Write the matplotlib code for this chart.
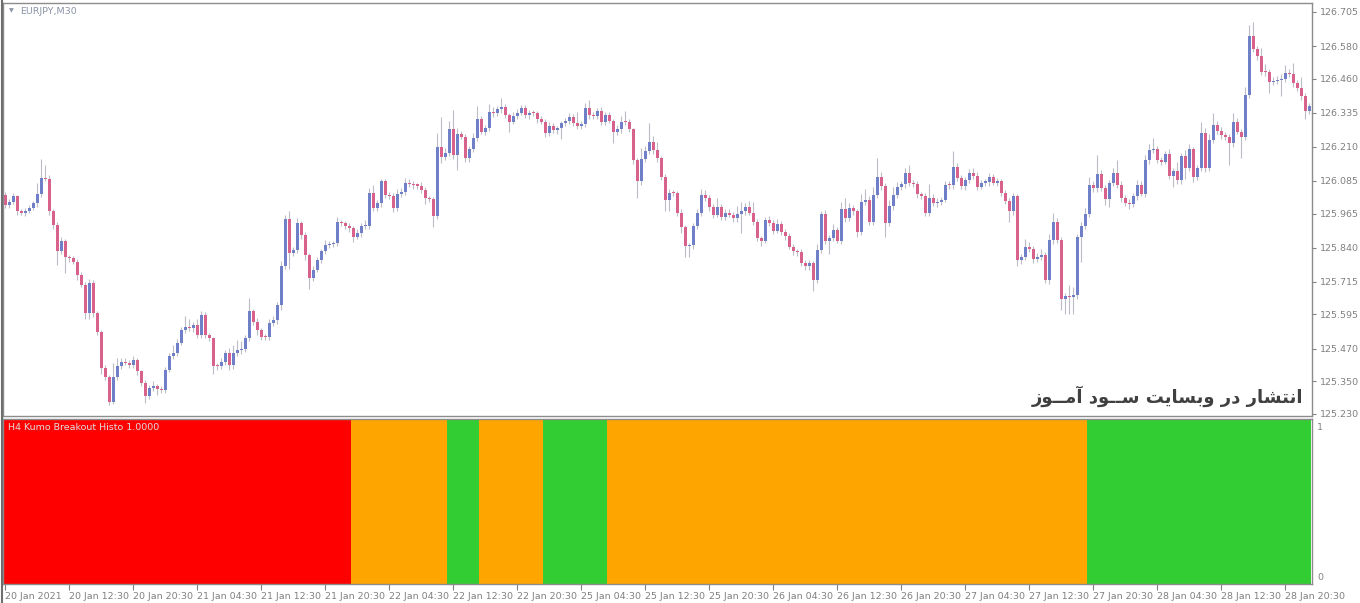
import matplotlib
matplotlib.use('Agg')
import matplotlib.pyplot as plt
import numpy as np
from matplotlib.lines import Line2D

# ---------------- data ----------------
symbol = "EURJPY,M30"
indicator_name = "H4 Kumo Breakout Histo 1.0000"
watermark = ("\uFEAF\uFEEE\u0640\u0640\uFEE3\uFE81 "
             "\uFEA9\uFEEE\u0640\u0640\uFEB3 "
             "\uFE96\uFEF3\uFE8E\uFEB4\uFE91\uFEED "
             "\uFEAD\uFEA9 "
             "\uFEAD\uFE8E\uFEB8\uFE98\uFEE7\uFE8D")

first_open = 126.034
closes = [
    125.997, 126.009, 126.028, 125.973, 125.969, 125.976, 125.985, 126.003, 126.037, 126.095,
    126.093, 125.973, 125.924, 125.826, 125.863, 125.807, 125.801, 125.789, 125.740, 125.704,
    125.600, 125.710, 125.600, 125.532, 125.398, 125.365, 125.275, 125.367, 125.404, 125.422,
    125.416, 125.410, 125.428, 125.386, 125.345, 125.296, 125.324, 125.331, 125.321, 125.318,
    125.392, 125.443, 125.453, 125.490, 125.538, 125.548, 125.545, 125.557, 125.520, 125.593,
    125.520, 125.508, 125.406, 125.404, 125.422, 125.453, 125.410, 125.453, 125.463, 125.468,
    125.508, 125.606, 125.569, 125.538, 125.514, 125.512, 125.563, 125.573, 125.630, 125.771,
    125.944, 125.822, 125.832, 125.930, 125.887, 125.814, 125.728, 125.759, 125.793, 125.826,
    125.850, 125.853, 125.856, 125.933, 125.931, 125.918, 125.911, 125.881, 125.893, 125.918,
    125.920, 126.040, 125.985, 126.003, 126.083, 126.034, 126.030, 125.985, 126.036, 126.046,
    126.077, 126.074, 126.070, 126.068, 126.052, 126.022, 126.019, 125.957, 126.211, 126.171,
    126.187, 126.275, 126.181, 126.258, 126.248, 126.168, 126.201, 126.242, 126.311, 126.266,
    126.278, 126.337, 126.333, 126.348, 126.358, 126.327, 126.303, 126.324, 126.336, 126.352,
    126.327, 126.336, 126.333, 126.311, 126.303, 126.262, 126.287, 126.272, 126.278, 126.297,
    126.306, 126.319, 126.299, 126.287, 126.294, 126.352, 126.327, 126.324, 126.343, 126.303,
    126.327, 126.306, 126.266, 126.275, 126.303, 126.301, 126.275, 126.162, 126.083, 126.165,
    126.193, 126.229, 126.199, 126.168, 126.101, 126.016, 126.042, 126.040, 125.969, 125.915,
    125.847, 125.850, 125.918, 125.969, 126.034, 126.022, 125.989, 125.961, 125.991, 125.954,
    125.969, 125.961, 125.948, 125.964, 125.973, 125.991, 125.969, 125.936, 125.875, 125.866,
    125.942, 125.932, 125.903, 125.928, 125.899, 125.883, 125.844, 125.826, 125.824, 125.783,
    125.771, 125.783, 125.722, 125.832, 125.964, 125.866, 125.875, 125.906, 125.866, 125.981,
    125.948, 125.985, 125.973, 125.899, 126.006, 126.016, 125.936, 126.034, 126.099, 126.067,
    125.930, 125.994, 126.034, 126.064, 126.074, 126.113, 126.077, 126.075, 126.038, 126.030,
    125.969, 126.022, 126.003, 126.009, 126.016, 126.071, 126.069, 126.135, 126.095, 126.067,
    126.089, 126.113, 126.104, 126.064, 126.079, 126.080, 126.101, 126.079, 126.083, 126.040,
    126.012, 125.973, 126.028, 125.793, 125.805, 125.842, 125.835, 125.798, 125.805, 125.814,
    125.720, 125.869, 125.936, 125.869, 125.651, 125.663, 125.658, 125.667, 125.879, 125.920,
    125.964, 126.071, 126.058, 126.111, 126.058, 126.018, 126.077, 126.113, 126.071, 126.022,
    126.003, 126.001, 126.030, 126.071, 126.038, 126.160, 126.199, 126.201, 126.162, 126.156,
    126.184, 126.104, 126.123, 126.087, 126.177, 126.132, 126.201, 126.101, 126.132, 126.260,
    126.132, 126.236, 126.291, 126.270, 126.254, 126.246, 126.223, 126.303, 126.266, 126.248,
    126.400, 126.617, 126.569, 126.543, 126.485, 126.483, 126.448, 126.452, 126.455, 126.459,
    126.481, 126.477, 126.444, 126.426, 126.397, 126.342, 126.360,
]

# wick lengths above / below the body, in points (0.001)
upper_wick = [
    10, 8, 14, 6, 8, 10, 12, 8, 40, 70,
    50, 12, 8, 10, 18, 8, 6, 10, 8, 12,
    10, 14, 10, 8, 6, 12, 8, 50, 30, 12,
    14, 10, 16, 8, 6, 10, 12, 20, 8, 10,
    10, 12, 30, 14, 10, 40, 30, 12, 20, 15,
    10, 8, 6, 10, 14, 12, 20, 30, 40, 30,
    12, 50, 10, 12, 8, 10, 14, 16, 12, 20,
    15, 30, 12, 20, 8, 10, 6, 12, 14, 10,
    20, 12, 10, 20, 10, 8, 12, 10, 14, 12,
    20, 18, 30, 12, 10, 8, 12, 10, 20, 12,
    20, 14, 10, 8, 12, 10, 8, 6, 50, 110,
    20, 30, 70, 20, 12, 10, 14, 20, 50, 12,
    14, 30, 18, 12, 30, 10, 8, 14, 12, 10,
    12, 10, 10, 8, 12, 10, 14, 12, 10, 8,
    10, 14, 12, 40, 10, 20, 30, 12, 10, 14,
    10, 12, 8, 14, 20, 40, 10, 6, 8, 40,
    20, 70, 20, 30, 10, 10, 14, 10, 8, 12,
    10, 8, 12, 14, 20, 16, 10, 10, 30, 10,
    12, 14, 10, 30, 35, 12, 20, 40, 10, 8,
    12, 14, 10, 16, 10, 8, 12, 10, 8, 10,
    12, 10, 8, 20, 10, 16, 12, 20, 10, 25,
    40, 20, 12, 10, 30, 40, 14, 30, 70, 20,
    10, 20, 30, 16, 12, 20, 30, 12, 10, 8,
    12, 50, 14, 12, 10, 14, 12, 60, 14, 12,
    12, 14, 20, 12, 10, 12, 14, 10, 12, 10,
    12, 10, 14, 10, 12, 30, 20, 12, 14, 20,
    10, 20, 30, 12, 10, 12, 40, 30, 12, 14,
    20, 30, 12, 70, 14, 12, 10, 20, 50, 12,
    10, 14, 12, 16, 12, 20, 20, 40, 14, 10,
    12, 20, 10, 30, 12, 20, 20, 10, 12, 40,
    20, 20, 45, 14, 12, 10, 12, 30, 12, 10,
    30, 40, 50, 10, 30, 30, 12, 14, 16, 20,
    30, 14, 40, 12, 40, 12, 10,
]
lower_wick = [
    12, 10, 8, 14, 10, 12, 10, 8, 14, 10,
    10, 12, 14, 50, 10, 60, 14, 10, 20, 10,
    20, 20, 14, 12, 20, 10, 12, 10, 14, 10,
    8, 12, 10, 12, 14, 25, 10, 10, 20, 12,
    10, 8, 12, 10, 8, 12, 10, 14, 10, 12,
    10, 12, 30, 12, 10, 14, 20, 16, 12, 14,
    10, 12, 14, 20, 14, 10, 12, 10, 14, 20,
    10, 60, 12, 10, 14, 20, 40, 12, 10, 8,
    10, 12, 10, 8, 12, 10, 14, 20, 10, 12,
    8, 10, 12, 10, 14, 12, 10, 14, 12, 10,
    12, 10, 14, 12, 10, 20, 12, 40, 10, 20,
    10, 12, 14, 55, 10, 12, 14, 10, 12, 10,
    14, 10, 12, 10, 14, 12, 40, 10, 12, 10,
    12, 14, 10, 12, 10, 14, 12, 10, 14, 40,
    10, 12, 14, 10, 12, 10, 14, 12, 10, 14,
    12, 10, 40, 12, 14, 10, 12, 14, 60, 14,
    12, 10, 14, 12, 14, 40, 40, 12, 14, 20,
    40, 40, 14, 10, 12, 10, 14, 12, 10, 12,
    14, 10, 12, 14, 70, 12, 10, 14, 12, 20,
    10, 12, 14, 10, 12, 14, 10, 12, 14, 12,
    14, 12, 40, 12, 10, 14, 50, 12, 10, 14,
    12, 10, 14, 20, 12, 10, 14, 12, 10, 14,
    50, 12, 14, 10, 12, 14, 10, 12, 14, 10,
    12, 14, 10, 12, 14, 10, 12, 14, 10, 12,
    14, 10, 12, 14, 10, 12, 14, 10, 12, 10,
    12, 40, 12, 20, 14, 12, 10, 14, 12, 10,
    10, 12, 14, 10, 40, 55, 60, 60, 14, 90,
    12, 10, 14, 12, 10, 20, 30, 10, 12, 14,
    10, 20, 12, 14, 10, 12, 14, 10, 12, 14,
    10, 12, 40, 14, 12, 40, 12, 20, 12, 10,
    14, 12, 10, 12, 14, 12, 80, 12, 10, 80,
    12, 10, 12, 14, 10, 12, 40, 12, 10, 60,
    12, 10, 14, 12, 16, 30, 12,
]

price_ticks = [126.705, 126.580, 126.460, 126.335, 126.210, 126.085, 125.965,
               125.840, 125.715, 125.595, 125.470, 125.350, 125.230]

time_labels = ["20 Jan 2021", "20 Jan 12:30", "20 Jan 20:30", "21 Jan 04:30",
               "21 Jan 12:30", "21 Jan 20:30", "22 Jan 04:30", "22 Jan 12:30",
               "22 Jan 20:30", "25 Jan 04:30", "25 Jan 12:30", "25 Jan 20:30",
               "26 Jan 04:30", "26 Jan 12:30", "26 Jan 20:30", "27 Jan 04:30",
               "27 Jan 12:30", "27 Jan 20:30", "28 Jan 04:30", "28 Jan 12:30",
               "28 Jan 20:30"]
bars_per_label = 16

# H4 histogram runs (in M30 bars) and their state
hist_states = ["bear", "neutral", "bull", "neutral", "bull", "neutral", "bull"]
hist_lengths = [87, 24, 8, 16, 16, 120, 56]

# ---------------- styles ----------------
BULL = "#7080c8"
BEAR = "#d8628c"
WICK = "#bcbcc8"
STATE_COL = {"bear": "#ff0000", "neutral": "#ffa500", "bull": "#32cd32"}
TXT = "#808080"
FRAME = "#8c8c8c"

W, H = 1360, 603
fig = plt.figure(figsize=(W / 100, H / 100), dpi=100)
fig.patch.set_facecolor("white")


def px_axes(x0, y0, x1, y1):
    return fig.add_axes([x0 / W, 1 - y1 / H, (x1 - x0) / W, (y1 - y0) / H])


ax = px_axes(3, 3, 1312, 416)
ax2 = px_axes(3, 419, 1312, 584)

closes_a = np.array(closes)
N = len(closes_a)
opens_a = np.r_[first_open, closes_a[:-1]]
x = np.arange(N)
hi_body = np.maximum(opens_a, closes_a)
lo_body = np.minimum(opens_a, closes_a)
highs = hi_body + np.array(upper_wick) * 0.001
lows = lo_body - np.array(lower_wick) * 0.001
bull = closes_a >= opens_a

ax.vlines(x, lows, highs, color=WICK, lw=0.8, zorder=1)
heights = np.maximum(hi_body - lo_body, 0.004)
ax.bar(x, heights, bottom=lo_body, width=0.75,
       color=np.where(bull, BULL, BEAR), linewidth=0, zorder=2)

xl = (-0.5, -0.5 + 1309 / 4)
ax.set_xlim(*xl)
ax.set_ylim(126.749 - 416 * 0.00367, 126.749 - 3 * 0.00367)
ax.set_xticks([])
ax.yaxis.tick_right()
ax.set_yticks(price_ticks)
ax.set_yticklabels([f"{v:.3f}" for v in price_ticks])
ax.tick_params(axis="y", direction="out", length=3, width=0.8, color=TXT,
               labelsize=6.8, labelcolor=TXT, pad=3)
for sp in ax.spines.values():
    sp.set_color(FRAME)
    sp.set_linewidth(1)

# histogram
starts = -0.5 + np.r_[0, np.cumsum(hist_lengths)[:-1]]
ax2.bar(starts, 1.0, width=hist_lengths, align="edge",
        color=[STATE_COL[s] for s in hist_states], linewidth=0)
ax2.set_xlim(*xl)
ax2.set_ylim(0, 1)
ax2.set_yticks([])
tick_pos = np.arange(len(time_labels)) * bars_per_label
ax2.set_xticks(tick_pos)
ax2.set_xticklabels(time_labels)
for lab in ax2.get_xticklabels():
    lab.set_horizontalalignment("left")
ax2.tick_params(axis="x", direction="out", length=4, width=0.8, color=TXT,
                labelsize=6.8, labelcolor=TXT, pad=2)
for sp in ax2.spines.values():
    sp.set_color(FRAME)
    sp.set_linewidth(1)

# texts
fig.text(1317 / W, 1 - 427 / H, "1", fontsize=6.8, color=TXT, va="center")
fig.text(1317 / W, 1 - 578 / H, "0", fontsize=6.8, color=TXT, va="center")
fig.text(9 / W, 1 - 11 / H, "\u25BC", fontsize=4.5, color="#8a94a6", va="center")
fig.text(20 / W, 1 - 11 / H, symbol, fontsize=6.8, color="#8a94a6", va="center")
fig.text(8 / W, 1 - 428 / H, indicator_name, fontsize=6.8, color="#dcdcdc",
         va="center")
fig.text(1303 / W, 1 - 396 / H, watermark, fontsize=13, fontweight="bold",
         color="#404040", ha="right", va="center", family=["DejaVu Sans"])

# window border at far left
fig.add_artist(Line2D([1.5 / W, 1.5 / W], [0, 1], color="#6e6e6e", lw=1.5))

fig.savefig("out.png", dpi=100, facecolor="white")
